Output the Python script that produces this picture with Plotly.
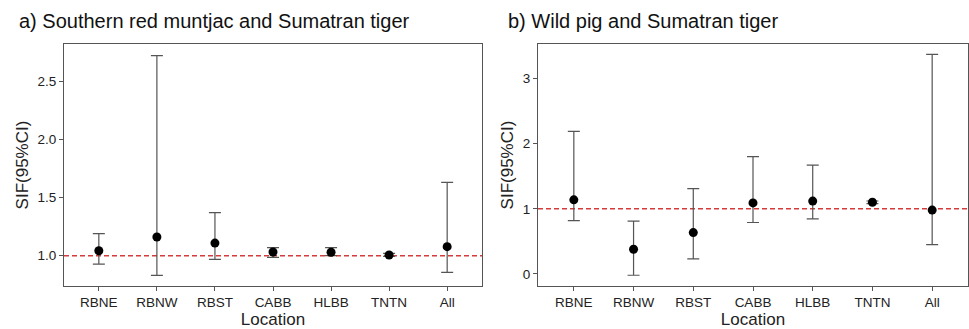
import plotly.graph_objects as go

locations = ["RBNE", "RBNW", "RBST", "CABB", "HLBB", "TNTN", "All"]

# Panel a: Southern red muntjac and Sumatran tiger
sif_a = [1.043, 1.161, 1.109, 1.032, 1.030, 1.006, 1.078]
upper_a = [1.19, 2.724, 1.371, 1.069, 1.069, 1.02, 1.633]
lower_a = [0.928, 0.831, 0.969, 0.986, 1.00, 0.995, 0.857]

# Panel b: Wild pig and Sumatran tiger
sif_b = [1.138, 0.38, 0.635, 1.09, 1.118, 1.10, 0.98]
upper_b = [2.19, 0.81, 1.31, 1.80, 1.67, 1.12, 3.37]
lower_b = [0.82, -0.02, 0.23, 0.79, 0.846, 1.08, 0.45]

titles = ["a) Southern red muntjac and Sumatran tiger", "b) Wild pig and Sumatran tiger"]
yticks_a = [1.0, 1.5, 2.0, 2.5]
yticks_b = [0, 1, 2, 3]

FONT = "Liberation Sans, Arial, sans-serif"
GRAY = "#555555"
RED = "#d43c3c"

fig = go.Figure()
xidx = list(range(len(locations)))

panels = [
    (sif_a, upper_a, lower_a, "x", "y"),
    (sif_b, upper_b, lower_b, "x2", "y2"),
]
for sif, up, lo, xa, ya in panels:
    fig.add_trace(go.Scatter(
        x=[-0.6, 6.6], y=[1, 1], mode="lines", xaxis=xa, yaxis=ya,
        line=dict(color=RED, width=1.6, dash="5px,3px"),
        showlegend=False, hoverinfo="skip",
    ))
    fig.add_trace(go.Scatter(
        x=xidx, y=sif, mode="markers", xaxis=xa, yaxis=ya,
        marker=dict(color="black", size=9),
        error_y=dict(type="data", symmetric=False,
                     array=[u - s for u, s in zip(up, sif)],
                     arrayminus=[s - l for s, l in zip(sif, lo)],
                     color=GRAY, thickness=1.2, width=6),
        showlegend=False,
    ))

axis_common = dict(
    showline=True, linecolor=GRAY, linewidth=1, mirror=True,
    ticks="outside", ticklen=4, tickcolor=GRAY, tickwidth=1,
    showgrid=False, zeroline=False, automargin=False,
    tickfont=dict(family=FONT, size=13.5, color="#222222"),
)
title_font = dict(family=FONT, size=17, color="#222222")
ydom = [1 - 286 / 329, 1 - 44 / 329]
fig.update_layout(
    width=969, height=329,
    margin=dict(l=0, r=0, t=0, b=0),
    paper_bgcolor="white", plot_bgcolor="white",
    xaxis=dict(domain=[64 / 969, 482 / 969], range=[-0.6, 6.6],
               tickvals=xidx, ticktext=locations,
               title=dict(text="Location", font=title_font, standoff=2),
               **axis_common),
    yaxis=dict(domain=ydom, range=[0.739, 2.825], tickvals=yticks_a,
               ticktext=[f"{v:.1f}" for v in yticks_a],
               title=dict(text="SIF(95%CI)", font=title_font, standoff=4),
               **axis_common),
    xaxis2=dict(domain=[538 / 969, 968 / 969], range=[-0.6, 6.6], anchor="y2",
                tickvals=xidx, ticktext=locations,
                title=dict(text="Location", font=title_font, standoff=2),
                **axis_common),
    yaxis2=dict(domain=ydom, range=[-0.185, 3.53], anchor="x2", tickvals=yticks_b,
                ticktext=[str(v) for v in yticks_b],
                title=dict(text="SIF(95%CI)", font=title_font, standoff=4),
                **axis_common),
    annotations=[
        dict(text=titles[0], x=17 / 969, y=1 - 34 / 329, xref="paper", yref="paper",
             xanchor="left", yanchor="bottom", showarrow=False,
             font=dict(family=FONT, size=20, color="#111111")),
        dict(text=titles[1], x=506 / 969, y=1 - 34 / 329, xref="paper", yref="paper",
             xanchor="left", yanchor="bottom", showarrow=False,
             font=dict(family=FONT, size=20, color="#111111")),
    ],
)

fig.write_html("out.html", config={"displayModeBar": False},
               post_script="document.body.style.margin='0';document.body.style.overflow='hidden';")
